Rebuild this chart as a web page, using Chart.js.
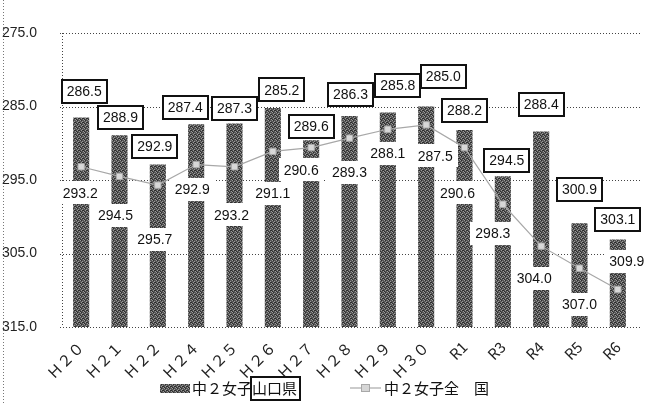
<!DOCTYPE html>
<html>
<head>
<meta charset="utf-8">
<script src="https://cdn.jsdelivr.net/npm/chart.js@4/dist/chart.umd.min.js"></script>
<style>
  html, body { margin: 0; background: #fff; }
  #wrap { width: 660px; height: 403px; }
</style>
</head>
<body>
<div id="wrap"><canvas id="chart" width="660" height="403"></canvas></div>
<script>
const categories = ["Ｈ２０", "Ｈ２１", "Ｈ２２", "Ｈ２４", "Ｈ２５", "Ｈ２６", "Ｈ２７", "Ｈ２８", "Ｈ２９", "Ｈ３０", "R1", "R3", "R4", "R5", "R6"];
const yamaguchi = [286.5, 288.9, 292.9, 287.4, 287.3, 285.2, 289.6, 286.3, 285.8, 285.0, 288.2, 294.5, 288.4, 300.9, 303.1];
const national = [293.2, 294.5, 295.7, 292.9, 293.2, 291.1, 290.6, 289.3, 288.1, 287.5, 290.6, 298.3, 304.0, 307.0, 309.9];
const yTicks = [275, 285, 295, 305, 315];
const seriesNames = ["中２女子山口県", "中２女子全　国"];

// label placement (pixel offsets from the bar top / line point)
const barLabelDx = [3, 1, -3, -11, 0, 9, 0, 1, 10, 17, 0, 4, 0, 0, 0];
const barLabelDy = [-26, -18, -18, -17, -15, -18, -14, -22, -27, -30, -20, -16, -27, -34, -20];
const lineLabelDx = [-1, -4, -3, -4, -3, 0, -10, 0, 0, 9, -7, -10, -7, 0, 9];
const lineLabelDy = [26, 39, 54, 25, 48, 42, 22, 34, 24, 31, 45, 29, 32, 36, -28];

const LABEL_FONT = '14px "Liberation Sans", Arial, sans-serif';
const JP_FONT = '15px "Noto Sans CJK JP", sans-serif';

function makeHatch() {
  const c = document.createElement("canvas");
  c.width = 4; c.height = 4;
  const g = c.getContext("2d");
  g.fillStyle = "#555";
  g.fillRect(0, 0, 4, 4);
  g.fillStyle = "#999";
  [[0, 0], [2, 1], [1, 2], [3, 3]].forEach(([x, y]) => g.fillRect(x, y, 1, 1));
  g.fillStyle = "#2e2e2e";
  [[1, 0], [3, 2], [0, 3], [2, 2]].forEach(([x, y]) => g.fillRect(x, y, 1, 1));
  return g.createPattern(c, "repeat");
}

function drawTag(ctx, text, x, y, boxed) {
  ctx.save();
  ctx.font = LABEL_FONT;
  const w = Math.round(ctx.measureText(text).width) + 10;
  const h = 23;
  const left = Math.round(x - w / 2), top = Math.round(y - h / 2);
  ctx.fillStyle = "#fff";
  ctx.fillRect(left, top, w, h);
  if (boxed) {
    ctx.lineWidth = 2;
    ctx.strokeStyle = "#111";
    ctx.strokeRect(left, top, w, h);
  }
  ctx.fillStyle = "#111";
  ctx.textAlign = "center";
  ctx.textBaseline = "middle";
  ctx.fillText(text, x, y + 1);
  ctx.restore();
}

const labelPlugin = {
  id: "valueLabels",
  beforeDraw(chart) {
    const ctx = chart.ctx;
    ctx.save();
    ctx.strokeStyle = "#777";
    ctx.setLineDash([1, 2]);
    ctx.beginPath();
    ctx.moveTo(3.5, 0);
    ctx.lineTo(3.5, chart.height);
    ctx.stroke();
    ctx.restore();
  },
  // dotted horizontal grid lines
  beforeDatasetsDraw(chart) {
    const ctx = chart.ctx;
    const y = chart.scales.y;
    const { left, right } = chart.chartArea;
    ctx.save();
    ctx.strokeStyle = "#444";
    ctx.lineWidth = 1;
    ctx.setLineDash([1, 2]);
    yTicks.forEach(v => {
      const py = Math.round(y.getPixelForValue(v)) + 0.5;
      ctx.beginPath();
      ctx.moveTo(left - 2, py);
      ctx.lineTo(right + 3, py);
      ctx.stroke();
    });
    ctx.beginPath();
    ctx.moveTo(left + 0.5, chart.chartArea.top);
    ctx.lineTo(left + 0.5, chart.chartArea.bottom);
    ctx.stroke();
    ctx.restore();
  },
  // after the bars, before the line: white tags for the national values
  afterDatasetDraw(chart, args) {
    if (args.index !== 0) return;
    const meta = chart.getDatasetMeta(1);
    meta.data.forEach((pt, i) => {
      drawTag(chart.ctx, national[i].toFixed(1), pt.x + lineLabelDx[i], pt.y + lineLabelDy[i], false);
    });
  },
  afterDatasetsDraw(chart) {
    const meta = chart.getDatasetMeta(0);
    meta.data.forEach((bar, i) => {
      drawTag(chart.ctx, yamaguchi[i].toFixed(1), bar.x + barLabelDx[i], bar.y + barLabelDy[i], true);
    });
  },
  afterDraw(chart) {
    const ctx = chart.ctx;
    const ly = 388;
    ctx.save();
    // item 1: bars
    ctx.fillStyle = hatch;
    ctx.fillRect(160, ly - 4, 30, 9);
    ctx.font = JP_FONT;
    ctx.fillStyle = "#111";
    ctx.textBaseline = "middle";
    ctx.textAlign = "left";
    ctx.fillText(seriesNames[0], 192, ly);
    const pre = ctx.measureText("中２女子").width;
    const all = ctx.measureText(seriesNames[0]).width;
    ctx.lineWidth = 2;
    ctx.strokeStyle = "#111";
    ctx.strokeRect(Math.round(192 + pre) - 1, ly - 11, Math.round(all - pre) + 4, 23);
    // item 2: line
    ctx.strokeStyle = "#a8a8a8";
    ctx.lineWidth = 1.2;
    ctx.beginPath();
    ctx.moveTo(350, ly);
    ctx.lineTo(381, ly);
    ctx.stroke();
    ctx.fillStyle = "#d6d6d6";
    ctx.fillRect(361, ly - 4, 9, 8);
    ctx.strokeStyle = "#a8a8a8";
    ctx.lineWidth = 1;
    ctx.strokeRect(361.5, ly - 3.5, 8, 7);
    ctx.fillStyle = "#111";
    ctx.fillText(seriesNames[1], 384, ly);
    ctx.restore();
  }
};

const hatch = makeHatch();

new Chart(document.getElementById("chart"), {
  data: {
    labels: categories,
    datasets: [
      {
        type: "bar",
        label: seriesNames[0],
        data: yamaguchi,
        backgroundColor: hatch,
        borderWidth: 0,
        barPercentage: 0.42,
        categoryPercentage: 1,
        base: 315,
        order: 2,
      },
      {
        type: "line",
        label: seriesNames[1],
        data: national,
        borderColor: "#a8a8a8",
        borderWidth: 1.2,
        pointStyle: "rect",
        pointRadius: 4.5,
        pointBackgroundColor: "#d8d8d8",
        pointBorderColor: "#a8a8a8",
        pointBorderWidth: 1,
        order: 1,
      }
    ],
  },
  options: {
    responsive: false,
    animation: false,
    layout: { padding: { top: 33, right: 23, left: 0, bottom: 0 } },
    plugins: {
      legend: { display: false },
      tooltip: { enabled: false },
    },
    scales: {
      x: {
        grid: { display: false },
        border: { display: false },
        ticks: {
          color: "#222",
          font: { size: 15, family: '"Noto Sans CJK JP", sans-serif' },
          maxRotation: 45,
          minRotation: 45,
          padding: 3,
        },
        afterFit(scale) { scale.height = 76; },
      },
      y: {
        reverse: true,
        min: 275,
        max: 315,
        afterBuildTicks(scale) { scale.ticks = yTicks.map(v => ({ value: v })); },
        grid: { display: false },
        border: { display: false },
        ticks: {
          color: "#222",
          padding: 17,
          font: { size: 14, family: '"Liberation Sans", Arial, sans-serif' },
          callback: v => Number(v).toFixed(1),
        },
        afterFit(scale) { scale.width = 62; },
      },
    },
  },
  plugins: [labelPlugin],
});
</script>
</body>
</html>
